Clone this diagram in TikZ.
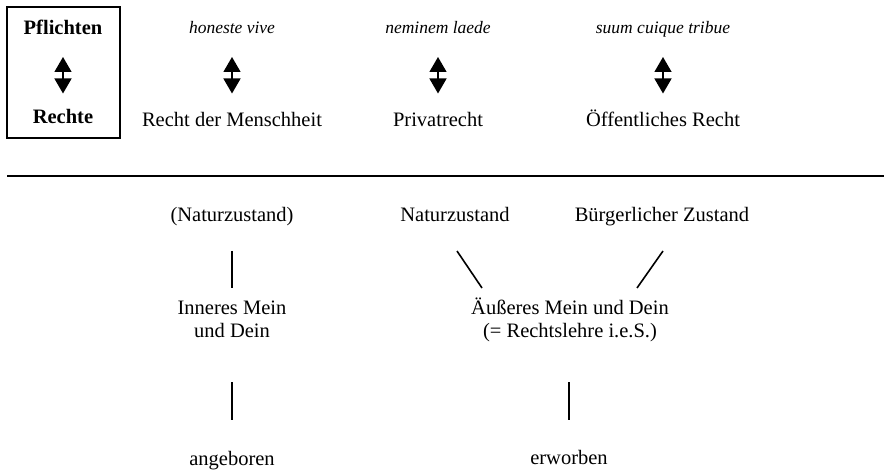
\documentclass[tikz,border=0pt]{standalone}
\usepackage{fontspec}
\setmainfont{Liberation Serif}
\usetikzlibrary{arrows.meta}

\tikzset{
    txt/.style={anchor=base,inner sep=0pt,font=\fontsize{20.5}{23}\selectfont},
    motto/.style={anchor=base,inner sep=0pt,font=\fontsize{17.5}{21}\selectfont\itshape},
    duty/.style={anchor=base,inner sep=0pt,font=\fontsize{20.5}{23}\selectfont\bfseries},
    dblarrow/.style={line width=1.4pt,{Triangle[width=17pt,length=15pt]}-{Triangle[width=17pt,length=15pt]}},
    rule/.style={line width=1.6pt}
}
\newcommand{\setup}{
    % double arrows, upper part
    \coordinate (a1t) at (63,-57);  \coordinate (a1b) at (63,-93.5);
    \coordinate (a2t) at (232,-57); \coordinate (a2b) at (232,-93.5);
    \coordinate (a3t) at (438,-57); \coordinate (a3b) at (438,-93.5);
    \coordinate (a4t) at (663,-57); \coordinate (a4b) at (663,-93.5);

    % short lines, lower part
    \coordinate (l1a) at (232,-251);
    \coordinate (l1b) at (232,-288);
    \coordinate (l2a) at (457,-251);
    \coordinate (l2b) at (482,-288);
    \coordinate (l3a) at (663,-251);
    \coordinate (l3b) at (637,-288);
    \coordinate (l4a) at (232,-382);
    \coordinate (l4b) at (232,-420);
    \coordinate (l5a) at (569,-382);
    \coordinate (l5b) at (569,-420);
}

\begin{document}
\begin{tikzpicture}[x=1pt,y=1pt]
          \useasboundingbox (0,0) rectangle (884,-473);
          \setup;

          % upper part
          \draw[rule] (7,-7) rectangle (120,-138);
          \node[duty]  (pfl) at (63,-34.3) {Pflichten};
          \node[duty]  (rte) at (63,-124) {Rechte};
          \node[motto] (hon) at (232,-33.3) {honeste vive};
          \node[txt]   (rdm) at (232,-126.7) {Recht der Menschheit};
          \node[motto] (nem) at (438,-33.3) {neminem laede};
          \node[txt]   (prv) at (438,-126.7) {Privatrecht};
          \node[motto] (suu) at (663,-33.3) {suum cuique tribue};
          \node[txt]   (oer) at (663,-126.7) {Öffentliches Recht};

          \draw[dblarrow] (a1t) -- (a1b);
          \draw[dblarrow] (a2t) -- (a2b);
          \draw[dblarrow] (a3t) -- (a3b);
          \draw[dblarrow] (a4t) -- (a4b);

          \coordinate (hl) at (7,-176);
          \coordinate (hr) at (884,-176);
          \draw[rule] (hl) -- (hr);

          % lower part
          \node[txt] (nz1) at (232,-221.7) {(Naturzustand)};
          \node[txt] (nz2) at (455,-221.7) {Naturzustand};
          \node[txt] (bgz) at (662,-221.7) {Bürgerlicher Zustand};
          \node[txt] (imd1) at (232,-314) {Inneres Mein};
          \node[txt] (imd2) at (232,-337) {und Dein};
          \node[txt] (amd1) at (570,-314) {Äußeres Mein und Dein};
          \node[txt] (amd2) at (570,-337.7) {(= Rechtslehre i.e.S.)};
          \node[txt] (ang) at (232,-465) {angeboren};
          \node[txt] (erw) at (569,-464) {erworben};

          \draw[rule] (l1a) -- (l1b);
          \draw[rule] (l2a) -- (l2b);
          \draw[rule] (l3a) -- (l3b);
          \draw[rule] (l4a) -- (l4b);
          \draw[rule] (l5a) -- (l5b);
        \end{tikzpicture}
\end{document}
